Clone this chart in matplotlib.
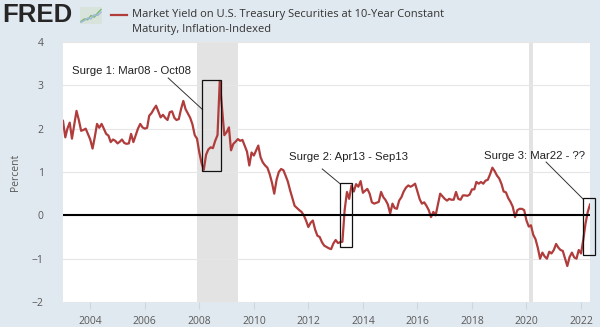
import numpy as np
import pandas as pd
import matplotlib.pyplot as plt
import matplotlib.dates as mdates
from matplotlib.lines import Line2D
from matplotlib.patches import Rectangle

# monthly 10-year TIPS yield, percent (Jan 2003 - May 2022)
y2003 = [2.18, 1.80, 2.00, 2.14, 1.77, 2.10, 2.41, 2.20, 1.95, 1.97, 2.00, 1.88]
y2004 = [1.75, 1.54, 1.80, 2.11, 2.02, 2.11, 2.00, 1.88, 1.84, 1.69, 1.75, 1.72]
y2005 = [1.66, 1.70, 1.75, 1.67, 1.65, 1.66, 1.88, 1.69, 1.85, 2.00, 2.11, 2.03]
y2006 = [2.00, 2.02, 2.30, 2.36, 2.45, 2.53, 2.40, 2.26, 2.32, 2.25, 2.20, 2.38]
y2007 = [2.40, 2.25, 2.20, 2.22, 2.45, 2.64, 2.45, 2.35, 2.25, 2.10, 1.85, 1.77]
y2008 = [1.45, 1.20, 1.05, 1.40, 1.52, 1.57, 1.55, 1.72, 1.85, 3.10, 2.45, 1.85]
y2009 = [1.92, 2.03, 1.50, 1.65, 1.70, 1.76, 1.72, 1.74, 1.60, 1.47, 1.15, 1.45]
y2010 = [1.38, 1.50, 1.61, 1.34, 1.22, 1.15, 1.10, 0.95, 0.75, 0.50, 0.82, 1.00]
y2011 = [1.07, 1.04, 0.92, 0.78, 0.58, 0.40, 0.22, 0.17, 0.12, 0.08, 0.00, -0.12]
y2012 = [-0.27, -0.17, -0.12, -0.33, -0.47, -0.50, -0.62, -0.70, -0.73, -0.76, -0.78, -0.65]
y2013 = [-0.57, -0.64, -0.62, -0.61, 0.12, 0.54, 0.38, 0.69, 0.55, 0.72, 0.66, 0.79]
y2014 = [0.52, 0.57, 0.61, 0.50, 0.30, 0.27, 0.29, 0.31, 0.54, 0.42, 0.35, 0.25]
y2015 = [0.04, 0.27, 0.17, 0.15, 0.34, 0.42, 0.55, 0.64, 0.69, 0.66, 0.69, 0.73]
y2016 = [0.55, 0.37, 0.27, 0.30, 0.22, 0.12, -0.04, 0.08, 0.00, 0.25, 0.50, 0.44]
y2017 = [0.38, 0.34, 0.38, 0.36, 0.36, 0.54, 0.38, 0.36, 0.46, 0.46, 0.45, 0.48]
y2018 = [0.60, 0.60, 0.77, 0.73, 0.77, 0.73, 0.80, 0.82, 0.95, 1.10, 1.02, 0.92]
y2019 = [0.85, 0.72, 0.55, 0.53, 0.40, 0.31, 0.20, -0.04, 0.12, 0.15, 0.15, 0.12]
y2020 = [-0.12, -0.26, -0.23, -0.45, -0.55, -0.75, -1.00, -0.86, -0.95, -1.00, -0.84, -0.88]
y2021 = [-0.80, -0.66, -0.74, -0.80, -0.82, -1.00, -1.17, -0.96, -0.86, -0.97, -1.00, -0.80]
y2022 = [-0.88, -0.55, -0.20, 0.08, 0.25]

yields = (y2003 + y2004 + y2005 + y2006 + y2007 + y2008 + y2009 + y2010 + y2011
          + y2012 + y2013 + y2014 + y2015 + y2016 + y2017 + y2018 + y2019
          + y2020 + y2021 + y2022)
dates = pd.date_range("2003-01-01", periods=len(yields), freq="MS")

recessions = [("2007-12-01", "2009-06-01"), ("2020-02-01", "2020-04-01")]

# callouts: label, label position, leader line start/end, box (x0, x1, y0, y1)
surges = [
    ("Surge 1: Mar08 - Oct08", ("2003-05-01", 3.33), ("2006-11-10", 3.17), ("2008-02-14", 2.44),
     ("2008-02-10", "2008-10-22", 1.03, 3.13)),
    ("Surge 2: Apr13 - Sep13", ("2011-04-22", 1.34), ("2012-07-05", 1.07), ("2013-02-28", 0.73),
     ("2013-02-28", "2013-08-10", -0.74, 0.75)),
    ("Surge 3: Mar22 - ??", ("2018-06-10", 1.38), ("2020-09-20", 1.23), ("2022-01-26", 0.38),
     ("2022-01-26", "2022-07-08", -0.92, 0.40)),
]

bg = "#e1e9f0"
tick_grey = "#595959"
red = "#b03c3c"

fig = plt.figure(figsize=(6, 3.27), dpi=100, facecolor=bg)
ax = fig.add_axes([63 / 600, 1 - 302 / 327, 527 / 600, 260 / 327])
ax.set_facecolor("white")

for start, end in recessions:
    ax.axvspan(pd.Timestamp(start), pd.Timestamp(end), color="#e3e3e3", lw=0, zorder=0)

ax.plot(dates, yields, color=red, lw=1.6, zorder=3)
ax.axhline(0, color="black", lw=1.5, zorder=4)

for label, txt, p0, p1, box in surges:
    ax.text(pd.Timestamp(txt[0]), txt[1], label, fontsize=8.2, color="#222222",
            family="Liberation Sans", va="center", ha="left", zorder=6)
    ax.plot([pd.Timestamp(p0[0]), pd.Timestamp(p1[0])], [p0[1], p1[1]],
            color="#333333", lw=0.7, zorder=5, clip_on=False)
    x0 = mdates.date2num(pd.Timestamp(box[0]))
    x1 = mdates.date2num(pd.Timestamp(box[1]))
    ax.add_patch(Rectangle((x0, box[2]), x1 - x0, box[3] - box[2], fill=False,
                           ec="#111111", lw=0.9, zorder=5, clip_on=False))

ax.set_xlim(dates[0], dates[-1])
ax.set_ylim(-2, 4)
ax.set_yticks(range(-2, 5))
ax.grid(axis="y", color="#e6e6e6", lw=0.8, zorder=1)
ax.set_axisbelow(True)
ax.xaxis.set_major_locator(mdates.YearLocator(2))
ax.xaxis.set_major_formatter(mdates.DateFormatter("%Y"))
for s in ax.spines.values():
    s.set_visible(False)
ax.tick_params(axis="x", length=5, color="#ccd6e0", labelsize=7.5, labelcolor=tick_grey, pad=5)
ax.tick_params(axis="y", length=0, labelsize=7.5, labelcolor=tick_grey, pad=14)
for lab in ax.get_xticklabels() + ax.get_yticklabels():
    lab.set_family("Open Sans")
ax.set_ylabel("Percent", fontsize=7.5, color=tick_grey, family="Open Sans", labelpad=8)

# header: logo and series name
fig.text(2 / 600, 1 - 15 / 327, "FRED", fontsize=18.5, fontweight="bold", color="#262626",
         family="Liberation Sans", va="center", ha="left")
logo = fig.add_axes([80 / 600, 1 - 24 / 327, 22 / 600, 17 / 327])
logo.set_facecolor("#d8e3dc")
logo_a = [0.15, 0.3, 0.25, 0.5, 0.4, 0.65, 0.85]
logo_b = [0.1, 0.2, 0.35, 0.3, 0.55, 0.5, 0.7]
logo.plot(logo_a, color="#7cb87a", lw=1)
logo.plot(logo_b, color="#9fb8d8", lw=1)
logo.set_ylim(0, 1)
logo.set_xticks([])
logo.set_yticks([])
for s in logo.spines.values():
    s.set_visible(False)

fig.add_artist(Line2D([111 / 600, 127 / 600], [1 - 15 / 327, 1 - 15 / 327], color=red, lw=1.6))
fig.text(132 / 600, 1 - 15 / 327, "Market Yield on U.S. Treasury Securities at 10-Year Constant",
         fontsize=8, color="#333333", family="Open Sans", va="center", ha="left")
fig.text(132 / 600, 1 - 29.5 / 327, "Maturity, Inflation-Indexed",
         fontsize=8, color="#333333", family="Open Sans", va="center", ha="left")

fig.savefig("out.png", dpi=100, facecolor=bg)
